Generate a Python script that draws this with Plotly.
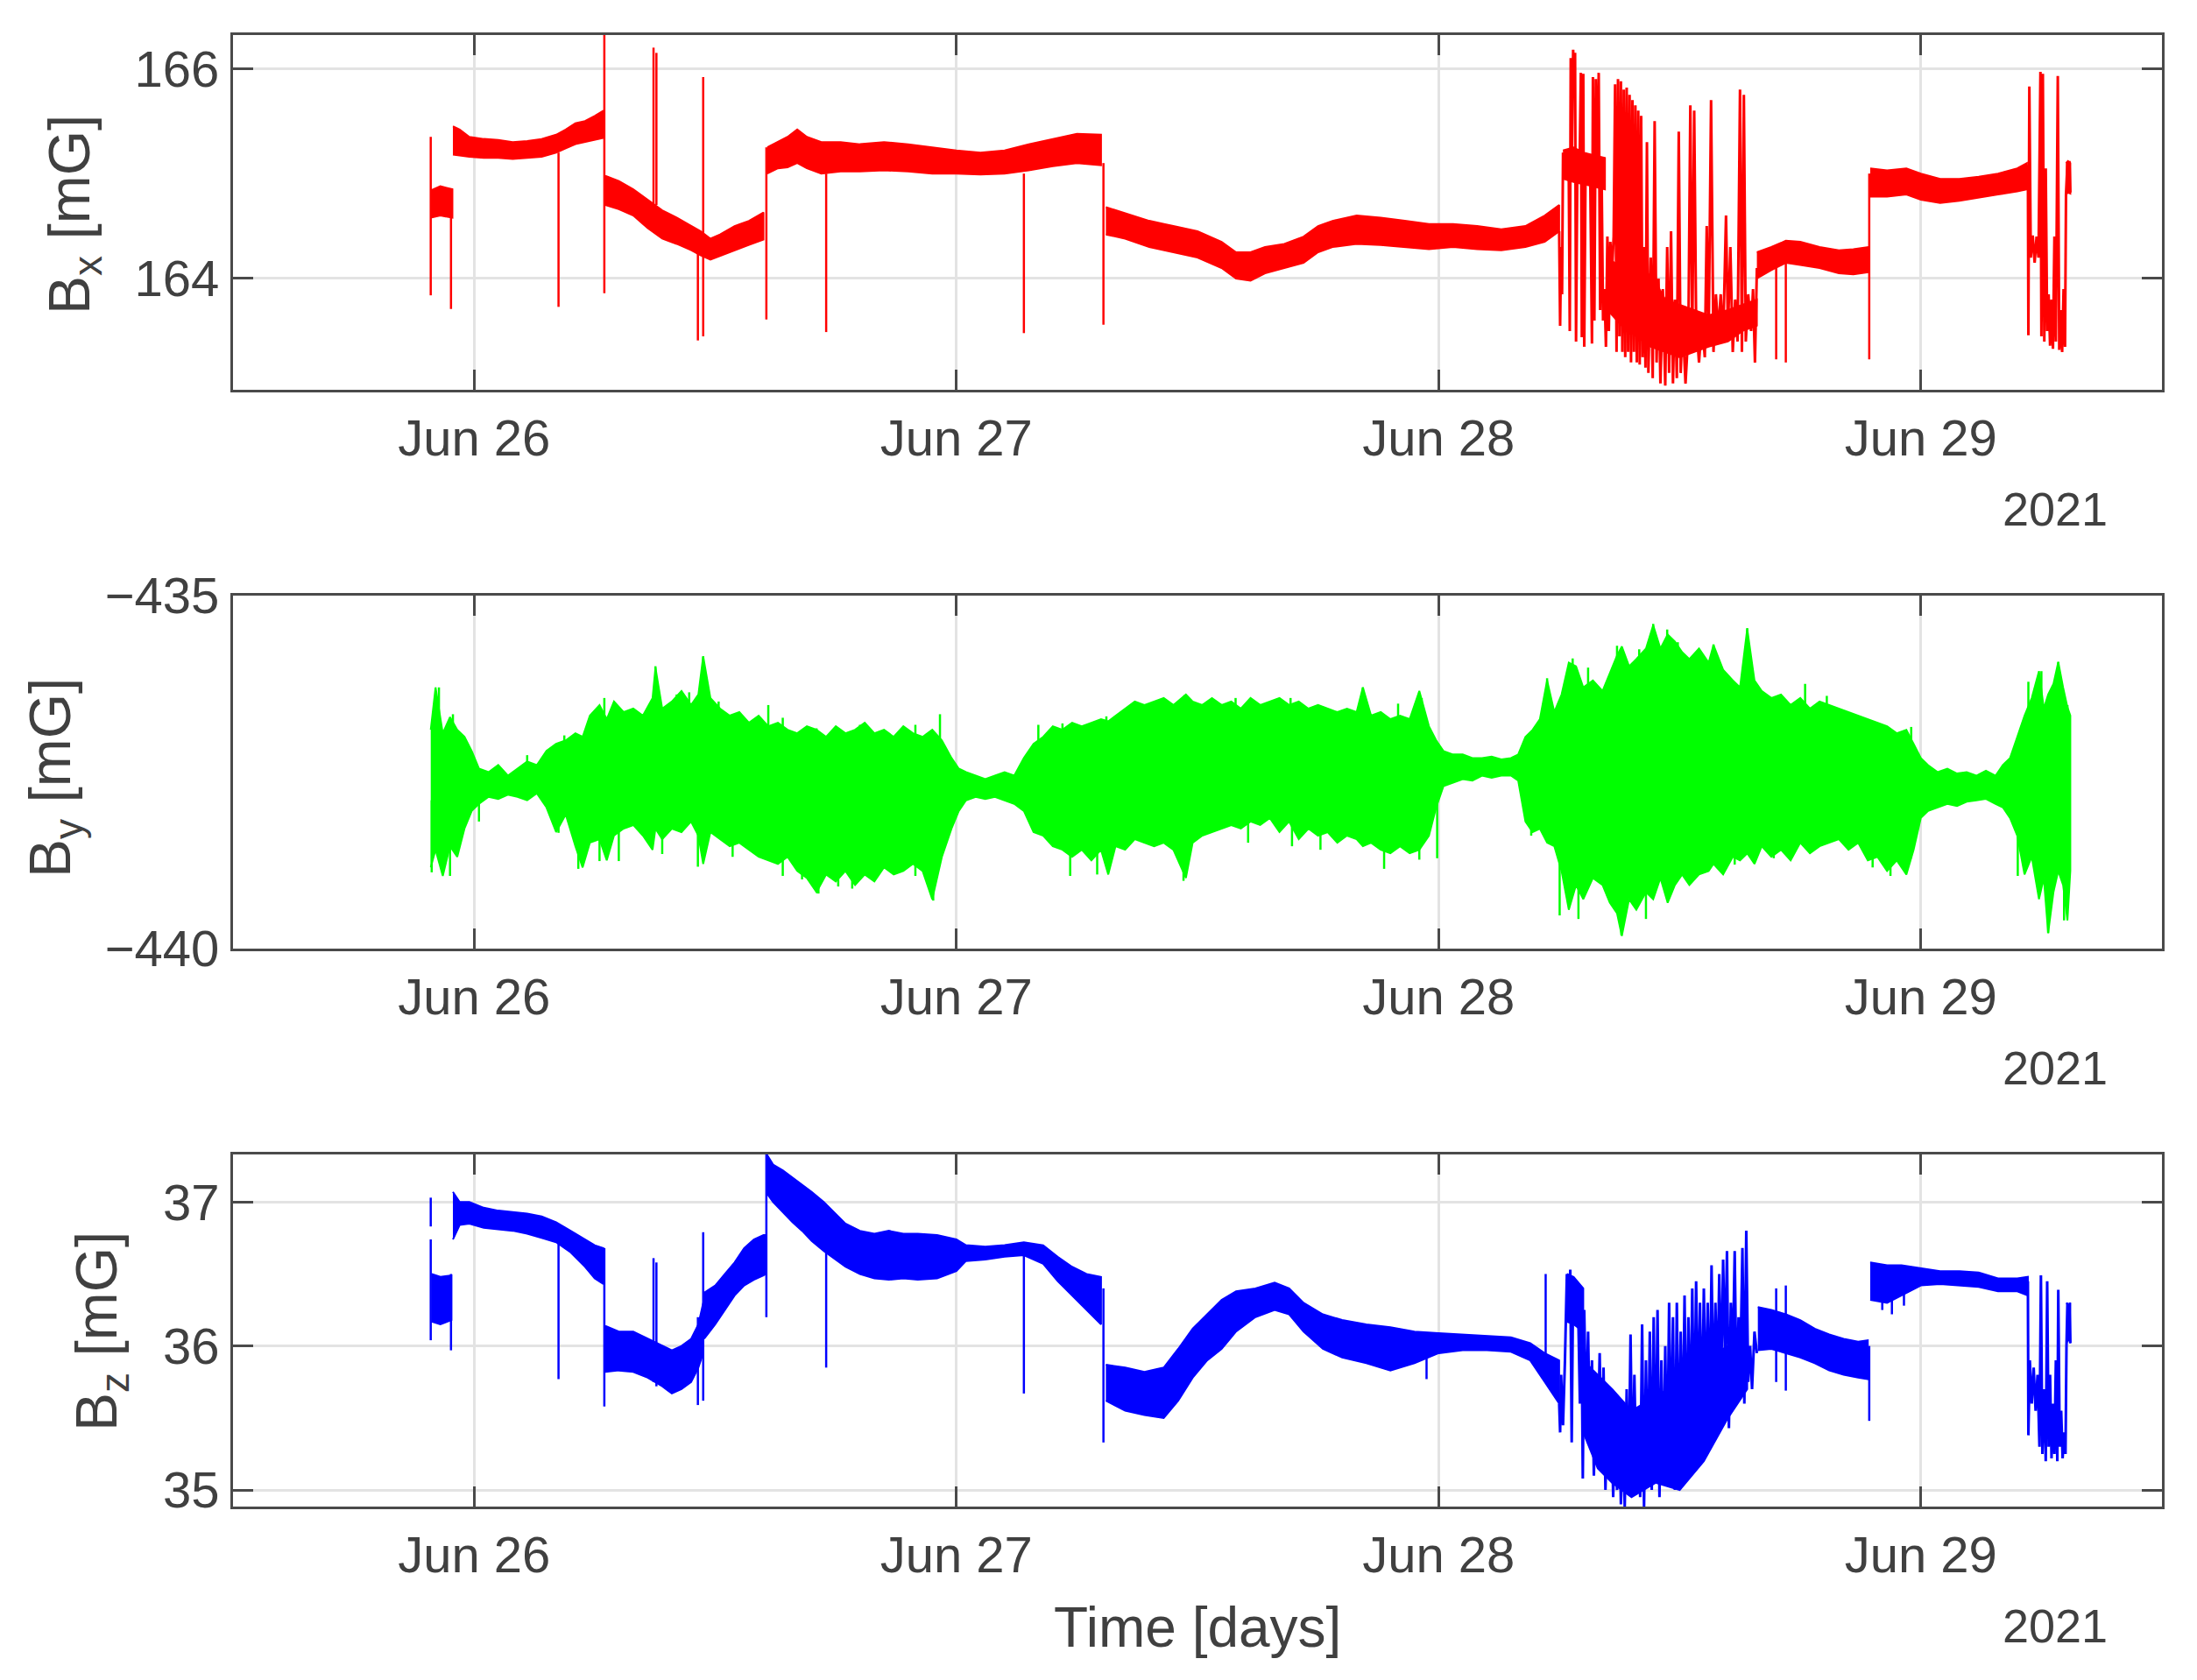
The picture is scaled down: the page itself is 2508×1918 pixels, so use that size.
import pandas as pd
import plotly.graph_objects as go

# ---------------- data (time = fractional day of June 2021) ----------------
X_TICK_DAYS = [26, 27, 28, 29]
X_TICK_LABELS = ["Jun 26", "Jun 27", "Jun 28", "Jun 29"]
X_RANGE_DAYS = [25.5, 29.5]

BX_TICKS = [164, 166]
BY_TICKS = [-440, -435]
BZ_TICKS = [35, 36, 37]
BX_RANGE = [162.94, 166.32]
BY_RANGE = [-440, -435]
BZ_RANGE = [34.885, 37.33]

# ---- Bx: noise bands (segments) ----
BX_BAND_T = [
    [25.91, 25.93, 25.955],
    [25.956, 25.97, 25.99, 26.02, 26.05, 26.08, 26.11, 26.14, 26.17, 26.19, 26.21, 26.23, 26.25, 26.268],
    [26.272, 26.3, 26.33, 26.36, 26.39, 26.42, 26.45, 26.47, 26.49, 26.51, 26.54, 26.57, 26.6],
    [26.608, 26.63, 26.65, 26.67, 26.69, 26.72, 26.76, 26.8, 26.85, 26.9, 26.95, 27.0, 27.05, 27.1, 27.15, 27.2, 27.25, 27.3],
    [27.31, 27.35, 27.4, 27.45, 27.5, 27.55, 27.58, 27.61, 27.64, 27.68, 27.72, 27.75, 27.78, 27.83, 27.88, 27.93, 27.98, 28.03, 28.08, 28.13, 28.18, 28.22, 28.25],
    [28.258, 28.28, 28.30, 28.32, 28.345],
    [28.35, 28.38, 28.41, 28.44, 28.47, 28.5, 28.53, 28.56, 28.6, 28.63, 28.66],
    [28.66, 28.69, 28.72, 28.75, 28.79, 28.83, 28.86, 28.89],
    [28.895, 28.93, 28.97, 29.0, 29.04, 29.08, 29.12, 29.16, 29.2, 29.22],
    [29.301, 29.305, 29.31],
]
BX_BAND_HI = [
    [164.84, 164.88, 164.85],
    [165.45, 165.42, 165.35, 165.33, 165.32, 165.3, 165.31, 165.33, 165.37, 165.42, 165.48, 165.5, 165.55, 165.6],
    [164.98, 164.93, 164.85, 164.75, 164.65, 164.58, 164.5, 164.45, 164.38, 164.42, 164.5, 164.55, 164.63],
    [165.25, 165.3, 165.35, 165.42, 165.35, 165.3, 165.3, 165.28, 165.3, 165.28, 165.25, 165.22, 165.2, 165.22, 165.28, 165.33, 165.38, 165.37],
    [164.68, 164.62, 164.55, 164.5, 164.45, 164.35, 164.25, 164.25, 164.3, 164.33, 164.4, 164.5, 164.55, 164.6, 164.58, 164.55, 164.52, 164.52, 164.5, 164.47, 164.5, 164.6, 164.7],
    [165.22, 165.25, 165.2, 165.18, 165.15],
    [164.2, 164.1, 163.95, 164.05, 163.8, 163.75, 163.7, 163.65, 163.7, 163.75, 163.8],
    [164.25, 164.3, 164.36, 164.35, 164.3, 164.27, 164.28, 164.3],
    [165.05, 165.03, 165.05, 165.0, 164.95, 164.95, 164.97, 165.0, 165.05, 165.1],
    [165.1, 165.12, 165.1],
]
BX_BAND_LO = [
    [164.58, 164.6, 164.58],
    [165.18, 165.17, 165.16, 165.15, 165.15, 165.14, 165.15, 165.16, 165.2, 165.24, 165.28, 165.3, 165.32, 165.34],
    [164.7, 164.66, 164.6, 164.48, 164.38, 164.33, 164.27, 164.22, 164.18, 164.22, 164.27, 164.32, 164.37],
    [165.0, 165.05, 165.06, 165.1, 165.05, 165.0, 165.02, 165.02, 165.03, 165.02, 165.0, 165.0, 164.99, 165.0, 165.03, 165.07, 165.1, 165.08],
    [164.42, 164.38, 164.3, 164.25, 164.2, 164.1, 164.0, 163.98, 164.05, 164.1, 164.15, 164.25, 164.3, 164.33, 164.32, 164.3, 164.28, 164.3, 164.28, 164.27, 164.3, 164.35, 164.45],
    [164.95, 164.92, 164.9, 164.88, 164.85],
    [163.7, 163.55, 163.45, 163.35, 163.3, 163.25, 163.3, 163.35, 163.4, 163.5, 163.55],
    [164.0, 164.08, 164.15, 164.13, 164.1, 164.05, 164.04, 164.06],
    [164.78, 164.78, 164.8, 164.75, 164.72, 164.74, 164.77, 164.8, 164.83, 164.85],
    [164.8, 164.82, 164.81],
]
# ---- Bx: isolated spikes ----
BX_SPIKE_T = [25.91, 25.952, 26.175, 26.27, 26.372, 26.378, 26.464, 26.475, 26.606, 26.73, 27.14, 27.305, 28.893, 28.70, 28.72]
BX_SPIKE_LO = [163.84, 163.71, 163.73, 163.86, 164.7, 164.7, 163.41, 163.45, 163.61, 163.49, 163.48, 163.56, 163.23, 163.23, 163.2]
BX_SPIKE_HI = [165.35, 164.85, 165.2, 166.4, 166.2, 166.15, 164.3, 165.92, 165.25, 165.0, 165.0, 165.1, 165.0, 164.3, 164.3]
# ---- Bx: bursts (rapid switching) ----
BX_BURST_T = [
    [28.250, 28.252, 28.254, 28.256, 28.258, 28.262, 28.266, 28.270, 28.272, 28.274, 28.276, 28.279, 28.281, 28.283,
     28.285, 28.288, 28.292, 28.295, 28.297, 28.300, 28.302, 28.305, 28.310, 28.314, 28.318, 28.320, 28.323, 28.326,
     28.329, 28.332, 28.335, 28.338, 28.341, 28.344, 28.347, 28.350, 28.353, 28.356, 28.360, 28.363, 28.366, 28.369,
     28.372, 28.375, 28.378, 28.381, 28.384, 28.387, 28.390, 28.393, 28.396, 28.399, 28.402, 28.405, 28.408, 28.411,
     28.414, 28.417, 28.420, 28.423, 28.426, 28.429, 28.432, 28.435, 28.440, 28.444, 28.448, 28.452, 28.456, 28.460,
     28.465, 28.470, 28.474, 28.478, 28.482, 28.486, 28.490, 28.494, 28.498, 28.502, 28.506, 28.512, 28.518, 28.522,
     28.526, 28.530, 28.534, 28.540, 28.546, 28.552, 28.556, 28.560, 28.565, 28.570, 28.575, 28.580, 28.585, 28.590,
     28.596, 28.600, 28.605, 28.610, 28.615, 28.620, 28.625, 28.629, 28.633, 28.637, 28.642, 28.648, 28.652, 28.656, 28.660],
    [29.222, 29.223, 29.225, 29.228, 29.232, 29.236, 29.240, 29.244, 29.248, 29.250, 29.253, 29.256, 29.259, 29.262,
     29.265, 29.268, 29.271, 29.274, 29.277, 29.280, 29.284, 29.287, 29.290, 29.293, 29.296, 29.299, 29.301, 29.304,
     29.306, 29.308, 29.310],
]
BX_BURST_V = [
    [164.45, 163.55, 164.3, 163.85, 165.2, 164.95, 165.22, 164.95, 163.5, 166.1, 165.0, 166.18, 165.9, 166.15,
     163.4, 165.2, 164.95, 165.96, 163.44, 165.95, 163.35, 165.2, 164.9, 165.18, 163.38, 165.92, 163.6, 165.9,
     164.88, 165.96, 163.7, 165.0, 163.6, 163.9, 163.35, 164.4, 163.5, 164.35, 164.1, 164.4, 165.85, 163.3,
     165.9, 163.45, 165.88, 163.3, 165.8, 163.25, 165.82, 163.3, 165.75, 163.2, 165.7, 163.3, 165.65, 163.2,
     165.6, 163.18, 165.55, 163.25, 164.3, 163.15, 165.3, 163.1, 164.2, 163.05, 165.5, 163.2, 164.0, 163.0,
     163.9, 162.98, 164.3, 163.1, 164.45, 163.0, 163.8, 163.05, 165.4, 163.1, 163.6, 163.0, 163.5, 165.65,
     163.4, 165.6, 163.6, 163.2, 163.6, 163.25, 164.5, 163.4, 165.7, 163.3, 163.85, 163.5, 163.85, 163.4,
     164.6, 163.5, 164.3, 163.3, 163.8, 163.4, 165.8, 163.3, 165.75, 163.4, 163.85, 163.5, 163.9, 163.2, 164.1],
    [165.08, 163.46, 165.83, 164.2, 164.41, 164.15, 164.4, 164.2, 165.97, 163.45, 165.95, 163.4, 165.05, 163.5,
     163.85, 163.36, 163.8, 163.33, 164.4, 163.4, 165.93, 163.32, 163.7, 163.3, 163.9, 163.35, 164.8, 165.1,
     164.85, 165.12, 164.82],
]

# ---- By: one noisy band (upper / lower envelope) ----
BY_T = [25.910, 25.920, 25.935, 25.950, 25.965, 25.980, 25.995, 26.010, 26.030, 26.050, 26.070, 26.090, 26.110,
        26.130, 26.150, 26.170, 26.190, 26.210, 26.225, 26.240, 26.260, 26.275, 26.290, 26.310, 26.330, 26.350,
        26.370, 26.376, 26.390, 26.410, 26.430, 26.450, 26.465, 26.475, 26.490, 26.510, 26.530, 26.550, 26.570,
        26.590, 26.610, 26.630, 26.650, 26.670, 26.690, 26.710, 26.730, 26.750, 26.770, 26.790, 26.810, 26.830,
        26.850, 26.870, 26.890, 26.910, 26.930, 26.950, 26.970, 26.990, 27.005, 27.020, 27.040, 27.060, 27.080,
        27.100, 27.120, 27.140, 27.160, 27.180, 27.200, 27.220, 27.240, 27.260, 27.280, 27.300, 27.315, 27.330,
        27.350, 27.370, 27.390, 27.410, 27.430, 27.450, 27.476, 27.490, 27.510, 27.530, 27.550, 27.570, 27.590,
        27.610, 27.630, 27.650, 27.670, 27.690, 27.710, 27.730, 27.750, 27.770, 27.790, 27.810, 27.830, 27.843,
        27.860, 27.880, 27.900, 27.920, 27.940, 27.960, 27.980, 27.995, 28.010, 28.030, 28.050, 28.070, 28.090,
        28.110, 28.130, 28.150, 28.165, 28.180, 28.195, 28.210, 28.225, 28.240, 28.255, 28.270, 28.285, 28.300,
        28.320, 28.340, 28.355, 28.370, 28.380, 28.395, 28.410, 28.430, 28.445, 28.460, 28.475, 28.490, 28.505,
        28.520, 28.540, 28.560, 28.570, 28.590, 28.610, 28.625, 28.640, 28.655, 28.670, 28.690, 28.710, 28.730,
        28.750, 28.770, 28.790, 28.810, 28.830, 28.850, 28.870, 28.890, 28.910, 28.930, 28.950, 28.970, 28.985,
        29.000, 29.015, 29.035, 29.055, 29.075, 29.095, 29.115, 29.135, 29.155, 29.170, 29.185, 29.200, 29.215,
        29.230, 29.245, 29.255, 29.264, 29.275, 29.285, 29.295, 29.304, 29.310]
BY_HI = [-436.9, -436.3, -436.95, -436.72, -436.9, -437.0, -437.2, -437.45, -437.5, -437.4, -437.55, -437.45, -437.35,
         -437.4, -437.2, -437.1, -437.05, -436.95, -437.0, -436.7, -436.55, -436.75, -436.5, -436.65, -436.6, -436.7,
         -436.45, -436.02, -436.6, -436.5, -436.35, -436.55, -436.4, -435.86, -436.45, -436.6, -436.7, -436.65, -436.8,
         -436.7, -436.85, -436.8, -436.9, -436.95, -436.85, -436.9, -437.0, -436.85, -436.95, -436.9, -436.8, -436.95,
         -436.9, -437.0, -436.85, -436.95, -437.0, -436.9, -437.05, -437.3, -437.45, -437.5, -437.55, -437.6, -437.55,
         -437.5, -437.55, -437.3, -437.1, -437.0, -436.85, -436.9, -436.8, -436.85, -436.8, -436.75, -436.78, -436.7,
         -436.6, -436.5, -436.55, -436.5, -436.45, -436.55, -436.4, -436.5, -436.55, -436.45, -436.55, -436.5, -436.6,
         -436.45, -436.55, -436.5, -436.45, -436.55, -436.5, -436.6, -436.55, -436.6, -436.65, -436.6, -436.65, -436.3,
         -436.7, -436.65, -436.75, -436.7, -436.75, -436.35, -436.85, -437.05, -437.2, -437.25, -437.25, -437.3, -437.3,
         -437.28, -437.32, -437.3, -437.25, -437.0, -436.9, -436.75, -436.2, -436.65, -436.4, -435.95, -436.0, -436.3,
         -436.2, -436.35, -436.1, -435.85, -435.72, -436.0, -435.9, -435.75, -435.42, -435.75, -435.55, -435.65, -435.8,
         -435.9, -435.75, -435.95, -435.7, -436.05, -436.2, -436.3, -435.47, -436.2, -436.35, -436.45, -436.4, -436.55,
         -436.45, -436.6, -436.5, -436.55, -436.6, -436.65, -436.7, -436.75, -436.8, -436.85, -436.95, -436.9, -437.1,
         -437.3, -437.4, -437.5, -437.45, -437.52, -437.5, -437.55, -437.48, -437.55, -437.4, -437.3, -437.0, -436.7,
         -436.45, -436.07, -436.6, -436.4, -436.25, -435.94, -436.3, -436.58, -436.7]
BY_LO = [-438.85, -438.6, -438.97, -438.55, -438.7, -438.3, -438.05, -437.95, -437.85, -437.88, -437.82, -437.85, -437.9,
         -437.8, -438.0, -438.35, -438.1, -438.55, -438.85, -438.5, -438.45, -438.75, -438.4, -438.3, -438.25, -438.4,
         -438.6, -438.3, -438.45, -438.3, -438.35, -438.2, -438.4, -438.8, -438.35, -438.45, -438.55, -438.5, -438.6,
         -438.7, -438.75, -438.8, -438.7, -438.9, -439.0, -439.2, -438.95, -439.05, -438.9, -439.1, -438.95, -439.05,
         -438.85, -438.95, -438.9, -438.8, -438.9, -439.3, -438.7, -438.3, -438.05, -437.9, -437.85, -437.88, -437.85,
         -437.9, -437.95, -438.05, -438.35, -438.4, -438.55, -438.6, -438.7, -438.6, -438.75, -438.6, -438.95, -438.55,
         -438.6, -438.45, -438.5, -438.55, -438.5, -438.6, -439.0, -438.5, -438.4, -438.35, -438.3, -438.25, -438.3,
         -438.2, -438.25, -438.15, -438.35, -438.2, -438.45, -438.3, -438.4, -438.35, -438.5, -438.4, -438.45, -438.55,
         -438.5, -438.6, -438.65, -438.55, -438.65, -438.6, -438.4, -438.0, -437.7, -437.65, -437.6, -437.62, -437.55,
         -437.58, -437.55, -437.55, -437.62, -438.2, -438.35, -438.3, -438.5, -438.55, -438.9, -439.45, -439.1, -439.3,
         -439.0, -439.1, -439.35, -439.5, -439.82, -439.3, -439.45, -439.2, -439.3, -439.0, -439.35, -439.1, -438.95,
         -439.1, -438.95, -438.9, -438.8, -438.95, -438.7, -438.75, -438.65, -438.8, -438.55, -438.7, -438.6, -438.75,
         -438.5, -438.65, -438.55, -438.5, -438.45, -438.6, -438.5, -438.75, -438.7, -438.9, -438.75, -438.95, -438.6,
         -438.15, -438.05, -438.0, -437.95, -437.98, -437.92, -437.9, -437.88, -437.95, -438.0, -438.15, -438.4, -438.95,
         -438.7, -439.3, -439.0, -439.78, -439.2, -438.9, -439.1, -439.6, -438.9]
# ---- By: individual excursions beyond the band ----
BY_SPIKE_T = [25.927, 25.956, 26.11, 26.187, 26.27, 26.296, 26.376, 26.42, 26.446, 26.475, 26.507, 26.55, 26.61,
              26.64, 26.71, 26.8, 26.915, 26.966, 27.17, 27.22, 27.311, 27.366, 27.417, 27.473, 27.539, 27.579,
              27.693, 27.843, 27.916, 27.965, 28.225, 28.278, 28.31, 28.37, 28.416, 28.445, 28.474, 28.496, 28.57,
              28.64, 28.76, 28.805, 28.885, 28.98, 29.223, 29.25, 29.285, 29.304,
              25.912, 25.95, 26.01, 26.175, 26.216, 26.26, 26.3, 26.39, 26.464, 26.536, 26.64, 26.68, 26.714,
              26.755, 26.784, 26.854, 26.915, 26.952, 27.236, 27.292, 27.471, 27.605, 27.696, 27.755, 27.887,
              27.96, 27.997, 28.192, 28.251, 28.29, 28.35, 28.379, 28.43, 28.518, 28.614, 28.695, 28.9, 28.937,
              28.98, 29.201, 29.264, 29.297]
BY_SPIKE_LO = [-437.5, -437.5, -437.6, -437.5, -437.5, -437.5, -437.5, -437.5, -437.5, -437.5, -437.5, -437.5, -437.5,
               -437.5, -437.5, -437.5, -437.5, -437.5, -437.5, -437.5, -437.5, -437.5, -437.5, -437.5, -437.5, -437.5,
               -437.5, -437.5, -437.5, -437.5, -437.4, -437.5, -437.5, -437.5, -437.5, -437.5, -437.5, -437.5, -437.5,
               -437.5, -437.5, -437.5, -437.5, -437.5, -437.5, -437.5, -437.5, -437.5,
               -438.92, -438.97, -438.2, -438.36, -438.87, -438.76, -438.76, -438.66, -438.84, -438.7, -438.97, -439.02,
               -439.22, -439.12, -439.15, -438.87, -438.97, -439.32, -438.97, -438.95, -439.04, -438.5, -438.55, -438.6,
               -438.87, -438.74, -438.72, -438.4, -439.53, -439.58, -439.25, -439.81, -439.58, -439.07, -438.81, -438.72,
               -438.85, -438.97, -438.72, -438.97, -439.78, -439.6]
BY_SPIKE_HI = [-436.3, -436.68, -437.26, -436.98, -436.45, -436.58, -436.0, -436.4, -436.37, -435.86, -436.5, -436.73,
               -436.55, -436.73, -436.88, -436.83, -436.83, -436.68, -436.83, -436.81, -436.71, -436.53, -436.55, -436.41,
               -436.5, -436.45, -436.45, -436.3, -436.53, -436.45, -436.17, -435.89, -436.02, -435.71, -435.76, -435.4,
               -435.48, -435.66, -435.69, -435.46, -436.25, -436.42, -436.81, -436.86, -436.22, -436.07, -435.94, -436.55,
               -437.9, -437.9, -437.9, -437.9, -437.9, -437.9, -437.9, -437.9, -437.9, -437.9, -437.9, -437.9, -437.9,
               -437.9, -437.9, -437.9, -437.9, -437.9, -437.9, -437.9, -437.9, -437.9, -437.9, -437.9, -437.9, -437.9,
               -437.9, -437.7, -437.9, -437.9, -437.9, -437.9, -437.9, -437.9, -437.9, -437.9, -437.9, -437.9, -437.9,
               -437.9, -437.9, -437.9]

# ---- Bz: noise bands ----
BZ_BAND_T = [
    [25.912, 25.93, 25.953],
    [25.956, 25.97, 25.99, 26.02, 26.05, 26.08, 26.11, 26.14, 26.17, 26.2, 26.23, 26.25, 26.268],
    [26.272, 26.3, 26.33, 26.36, 26.39, 26.41, 26.43, 26.45, 26.465, 26.475],
    [26.477, 26.5, 26.52, 26.54, 26.56, 26.58, 26.6, 26.605],
    [26.607, 26.62, 26.64, 26.66, 26.68, 26.7, 26.725, 26.75, 26.77, 26.8, 26.83, 26.86, 26.89, 26.92, 26.96, 27.0,
     27.02, 27.06, 27.1, 27.14, 27.18, 27.21, 27.24, 27.27, 27.3],
    [27.31, 27.35, 27.39, 27.43, 27.46, 27.49, 27.52, 27.55, 27.58, 27.62, 27.66, 27.69, 27.72, 27.76, 27.8, 27.85,
     27.9, 27.95, 28.0, 28.05, 28.1, 28.15, 28.19, 28.22, 28.25],
    [28.266, 28.28, 28.3],
    [28.30, 28.33, 28.36, 28.4, 28.45, 28.5, 28.55, 28.6, 28.64],
    [28.662, 28.69, 28.72, 28.75, 28.78, 28.81, 28.84, 28.87, 28.89],
    [28.895, 28.93, 28.96, 29.0, 29.04, 29.08, 29.12, 29.16, 29.2, 29.222],
    [29.302, 29.306, 29.31],
]
BZ_BAND_HI = [
    [36.5, 36.48, 36.49],
    [37.07, 37.0, 37.0, 36.96, 36.94, 36.93, 36.92, 36.9, 36.86, 36.8, 36.74, 36.7, 36.68],
    [36.14, 36.1, 36.1, 36.05, 36.0, 35.97, 36.0, 36.05, 36.15, 36.3],
    [36.37, 36.42, 36.5, 36.58, 36.68, 36.74, 36.77, 36.77],
    [37.33, 37.26, 37.22, 37.17, 37.12, 37.07, 37.0, 36.92, 36.85, 36.8, 36.78, 36.8, 36.78, 36.78, 36.77, 36.74,
     36.7, 36.69, 36.7, 36.72, 36.7, 36.62, 36.55, 36.5, 36.48],
    [35.87, 35.85, 35.82, 35.85, 35.98, 36.12, 36.22, 36.32, 36.38, 36.4, 36.44, 36.4, 36.3, 36.22, 36.18, 36.15,
     36.13, 36.1, 36.09, 36.08, 36.07, 36.06, 36.02, 35.95, 35.9],
    [36.5, 36.48, 36.4],
    [35.9, 35.8, 35.7, 35.55, 35.65, 35.75, 35.9, 36.0, 36.15],
    [36.27, 36.25, 36.22, 36.18, 36.12, 36.08, 36.05, 36.03, 36.04],
    [36.58, 36.56, 36.56, 36.54, 36.52, 36.52, 36.51, 36.47, 36.47, 36.48],
    [36.3, 36.28, 36.3],
]
BZ_BAND_LO = [
    [36.17, 36.15, 36.18],
    [36.74, 36.84, 36.85, 36.82, 36.81, 36.8, 36.78, 36.75, 36.72, 36.65, 36.55, 36.47, 36.43],
    [35.82, 35.83, 35.82, 35.78, 35.72, 35.67, 35.7, 35.75, 35.85, 35.95],
    [36.05, 36.15, 36.25, 36.35, 36.42, 36.46, 36.49, 36.5],
    [37.06, 37.0, 36.93, 36.86, 36.8, 36.73, 36.66, 36.6, 36.55, 36.5, 36.47, 36.46, 36.47, 36.46, 36.47, 36.52,
     36.59, 36.6, 36.62, 36.63, 36.57, 36.45, 36.35, 36.25, 36.15],
    [35.62, 35.55, 35.52, 35.5, 35.62, 35.78, 35.9, 35.98, 36.1, 36.2, 36.25, 36.22, 36.1, 35.98, 35.92, 35.88,
     35.83, 35.88, 35.95, 35.97, 35.97, 35.96, 35.9, 35.75, 35.6],
    [36.17, 36.15, 36.1],
    [35.4, 35.15, 35.05, 34.95, 35.05, 35.0, 35.2, 35.5, 35.7],
    [35.97, 35.98, 35.95, 35.92, 35.88, 35.83, 35.8, 35.78, 35.77],
    [36.32, 36.3, 36.35, 36.42, 36.43, 36.42, 36.41, 36.38, 36.38, 36.35],
    [36.02, 36.05, 36.02],
]
BZ_SPIKE_T = [25.910, 25.910, 25.952, 26.175, 26.27, 26.372, 26.378, 26.464, 26.475, 26.606, 26.73, 27.14, 27.305,
              27.975, 28.70, 28.72, 28.893, 28.222, 28.92, 28.94, 28.965]
BZ_SPIKE_LO = [36.04, 36.83, 35.97, 35.77, 35.58, 35.75, 35.72, 35.59, 35.62, 36.2, 35.85, 35.67, 35.33,
               35.77, 35.75, 35.69, 35.48, 35.9, 36.25, 36.22, 36.28]
BZ_SPIKE_HI = [36.74, 37.03, 36.5, 36.75, 36.68, 36.61, 36.58, 36.2, 36.79, 37.33, 36.9, 36.65, 36.4,
               36.0, 36.4, 36.42, 36.0, 36.5, 36.5, 36.5, 36.5]
BZ_BURST_T = [
    [28.250, 28.252, 28.254, 28.258, 28.262, 28.266, 28.270, 28.273, 28.276, 28.279, 28.283, 28.286, 28.290, 28.293,
     28.296, 28.299, 28.302, 28.306, 28.310, 28.314, 28.318, 28.322, 28.326, 28.330, 28.334, 28.338, 28.342, 28.346,
     28.350, 28.354, 28.358, 28.362, 28.366, 28.370, 28.374, 28.378, 28.382, 28.386, 28.390, 28.394, 28.398, 28.402,
     28.406, 28.410, 28.414, 28.418, 28.422, 28.426, 28.430, 28.434, 28.438, 28.442, 28.446, 28.450, 28.454, 28.458,
     28.462, 28.466, 28.470, 28.474, 28.478, 28.482, 28.486, 28.490, 28.494, 28.498, 28.502, 28.506, 28.510, 28.514,
     28.518, 28.522, 28.526, 28.530, 28.534, 28.538, 28.542, 28.546, 28.550, 28.554, 28.558, 28.562, 28.566, 28.570,
     28.574, 28.578, 28.582, 28.586, 28.590, 28.594, 28.598, 28.602, 28.606, 28.610, 28.614, 28.618, 28.622, 28.626,
     28.630, 28.634, 28.638, 28.642, 28.646, 28.650, 28.655, 28.660],
    [29.222, 29.223, 29.226, 29.230, 29.234, 29.238, 29.242, 29.246, 29.249, 29.252, 29.256, 29.259, 29.262, 29.265,
     29.268, 29.271, 29.274, 29.277, 29.280, 29.283, 29.285, 29.288, 29.291, 29.294, 29.297, 29.300, 29.302, 29.304,
     29.306, 29.308, 29.310],
]
BZ_BURST_V = [
    [35.6, 35.4, 35.8, 35.45, 35.9, 36.5, 36.2, 36.53, 35.33, 36.45, 36.2, 36.4, 36.15, 35.6,
     36.3, 35.08, 36.25, 35.5, 36.1, 35.3, 35.9, 35.1, 35.8, 35.3, 35.95, 35.15, 35.85, 35.0,
     35.6, 35.1, 35.7, 34.95, 35.5, 35.0, 35.6, 34.9, 35.4, 34.88, 35.7, 35.0, 36.08, 35.05,
     35.8, 35.1, 35.5, 34.95, 36.15, 34.88, 35.9, 35.05, 36.1, 35.0, 36.2, 35.1, 36.25, 34.95,
     35.9, 35.05, 36.0, 35.1, 36.3, 35.2, 36.2, 35.0, 36.3, 35.2, 36.1, 35.3, 36.35, 35.25,
     36.2, 35.4, 36.4, 35.35, 36.45, 35.5, 36.3, 35.45, 36.4, 35.55, 36.3, 35.5, 36.56, 35.6,
     36.3, 35.7, 36.5, 35.75, 36.6, 35.9, 36.66, 35.43, 36.3, 35.9, 36.66, 35.6, 36.2, 35.9,
     36.68, 35.6, 36.8, 35.75, 36.0, 35.7, 36.1, 35.95],
    [36.45, 35.38, 35.9, 35.6, 35.85, 35.55, 35.8, 35.3, 36.49, 35.25, 35.7, 35.2, 36.45, 35.3,
     35.8, 35.22, 35.6, 35.25, 35.9, 35.2, 36.39, 35.3, 35.55, 35.22, 35.4, 35.25, 36.0, 36.3,
     36.05, 36.28, 36.02],
]

# ---------------- styling ----------------
FONT = "Liberation Sans, Arial, Helvetica, sans-serif"
TEXT = "#404040"
LINE = "#4a4a4a"
GRID = "#e3e3e3"
W, H = 2508, 1918
BASE = pd.Timestamp("2021-06-01")


def T(days):
    return [None if d is None else BASE + pd.Timedelta(days=d - 1) for d in days]


def px_x(p):
    return p / W


def px_y(p):
    return 1 - p / H


X_DOMAIN = [px_x(266), px_x(2468)]
Y_DOMAINS = [[px_y(445), px_y(40)], [px_y(1083), px_y(680)], [px_y(1720), px_y(1318)]]

fig = go.Figure()


def add_bands(ts, his, los, color, ax):
    for t, hi, lo in zip(ts, his, los):
        fig.add_trace(go.Scatter(
            x=T(t + t[::-1]), y=hi + lo[::-1], mode="lines", fill="toself",
            fillcolor=color, line=dict(color=color, width=2), hoverinfo="skip",
            xaxis="x" + ax, yaxis="y" + ax))


def add_spikes(ts, los, his, color, ax, width=2.5):
    xs, ys = [], []
    for t, lo, hi in zip(ts, los, his):
        xs += [t, t, None]
        ys += [lo, hi, None]
    fig.add_trace(go.Scatter(x=T(xs), y=ys, mode="lines", line=dict(color=color, width=width),
                             hoverinfo="skip", xaxis="x" + ax, yaxis="y" + ax))


def add_bursts(ts, vs, color, ax):
    for t, v in zip(ts, vs):
        fig.add_trace(go.Scatter(x=T(t), y=v, mode="lines", line=dict(color=color, width=3),
                                 hoverinfo="skip", xaxis="x" + ax, yaxis="y" + ax))


# panel 1 (Bx)
add_bands(BX_BAND_T, BX_BAND_HI, BX_BAND_LO, "#ff0000", "")
add_spikes(BX_SPIKE_T, BX_SPIKE_LO, BX_SPIKE_HI, "#ff0000", "")
add_bursts(BX_BURST_T, BX_BURST_V, "#ff0000", "")
# panel 2 (By)
add_bands([BY_T], [BY_HI], [BY_LO], "#00ff00", "2")
add_spikes(BY_SPIKE_T, BY_SPIKE_LO, BY_SPIKE_HI, "#00ff00", "2", width=2.5)
# panel 3 (Bz)
add_bands(BZ_BAND_T, BZ_BAND_HI, BZ_BAND_LO, "#0000ff", "3")
add_spikes(BZ_SPIKE_T, BZ_SPIKE_LO, BZ_SPIKE_HI, "#0000ff", "3")
add_bursts(BZ_BURST_T, BZ_BURST_V, "#0000ff", "3")

axis_common = dict(
    showline=True, linecolor=LINE, linewidth=3, mirror="ticks",
    ticks="inside", ticklen=23, tickwidth=3, tickcolor=LINE,
    showgrid=True, gridcolor=GRID, gridwidth=3, zeroline=False, automargin=False,
    tickfont=dict(family=FONT, size=58, color=TEXT),
)

x_range = T(X_RANGE_DAYS)
x_ticks = T(X_TICK_DAYS)
y_ticks = [BX_TICKS, BY_TICKS, BZ_TICKS]
y_ranges = [BX_RANGE, BY_RANGE, BZ_RANGE]

layout = dict(
    width=W, height=H, margin=dict(l=0, r=0, t=0, b=0, pad=0, autoexpand=False),
    paper_bgcolor="white", plot_bgcolor="white", showlegend=False,
)
for i in range(3):
    sfx = "" if i == 0 else str(i + 1)
    layout["xaxis" + sfx] = dict(
        axis_common, type="date", domain=X_DOMAIN, range=x_range,
        tickvals=x_ticks, ticktext=X_TICK_LABELS, anchor="y" + sfx,
        ticklabelstandoff=2,
    )
    layout["yaxis" + sfx] = dict(
        axis_common, domain=Y_DOMAINS[i], range=y_ranges[i],
        tickvals=y_ticks[i], ticktext=[str(v).replace("-", "\u2212") for v in y_ticks[i]],
        anchor="x" + sfx, ticklabelstandoff=1,
    )
fig.update_layout(**layout)

ann = []
# y-axis titles
for label, cx, cy in [("B<sub>x</sub> [mG]", 84, 245), ("B<sub>y</sub> [mG]", 62, 888),
                      ("B<sub>z</sub> [mG]", 115, 1520)]:
    ann.append(dict(text=label, x=px_x(cx), y=px_y(cy), xref="paper", yref="paper",
                    xanchor="center", yanchor="middle", textangle=-90, showarrow=False,
                    font=dict(family=FONT, size=66, color=TEXT)))
# year labels
for cy in [581, 1219, 1856]:
    ann.append(dict(text="2021", x=px_x(2408), y=px_y(cy), xref="paper", yref="paper",
                    xanchor="right", yanchor="middle", showarrow=False,
                    font=dict(family=FONT, size=54, color=TEXT)))
# x title
ann.append(dict(text="Time [days]", x=px_x(1367), y=px_y(1858), xref="paper", yref="paper",
                xanchor="center", yanchor="middle", showarrow=False,
                font=dict(family=FONT, size=64, color=TEXT)))
fig.update_layout(annotations=ann)

fig.write_html("out.html", config={"displayModeBar": False},
               post_script="document.body.style.margin='0';")
